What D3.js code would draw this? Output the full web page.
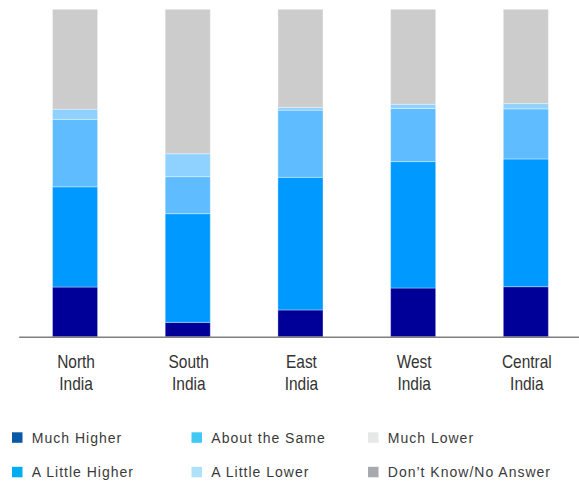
<!DOCTYPE html>
<html>
<head>
<meta charset="utf-8">
<script src="https://cdn.jsdelivr.net/npm/d3@7"></script>
<style>
  html, body { margin: 0; padding: 0; background: #fff; }
  svg { display: block; }
  .cat text { font-family: "Liberation Sans", Arial, sans-serif; font-size: 18px; fill: #333; }
  .legend text { font-family: "Liberation Sans", Arial, sans-serif; font-size: 14px; letter-spacing: 1px; fill: #3a3a3a; }
</style>
</head>
<body>
<svg id="chart" width="579" height="481"></svg>
<script>
// Regions and share of answers (percent) per answer group
const regions = ["North India", "South India", "East India", "West India", "Central India"];
const muchHigher     = [15.2,  4.4,  8.2, 14.9, 15.3];
const littleHigher   = [30.6, 33.2, 40.5, 38.6, 39.0];
const aboutSame      = [20.6, 11.3, 20.5, 16.2, 15.3];
const littleLower    = [ 3.1,  7.0,  0.8,  1.3,  1.6];
const lowerOrUnknown = [30.5, 44.1, 30.0, 29.0, 28.8];

const seriesKeys   = ["muchHigher", "littleHigher", "aboutSame", "littleLower", "lowerOrUnknown"];
const seriesColors = ["#000099", "#0099ff", "#5fbdff", "#8fd1ff", "#cccccc"];

const legendLabels = ["Much Higher", "A Little Higher", "About the Same", "A Little Lower", "Much Lower", "Don\u2019t Know/No Answer"];
const legendColors = ["#0859a8", "#00aeef", "#42c8f4", "#ade2fa", "#e6e7e8", "#a7a9ac"];

const svg = d3.select("#chart");

// Rows for the stack layout
const rows = regions.map((r, i) => ({
  region: r,
  muchHigher: muchHigher[i],
  littleHigher: littleHigher[i],
  aboutSame: aboutSame[i],
  littleLower: littleLower[i],
  lowerOrUnknown: lowerOrUnknown[i]
}));

const stacked = d3.stack().keys(seriesKeys)(rows);

const x = d3.scaleBand()
  .domain(regions)
  .range([18.7, 582.2])
  .paddingInner(0.6)
  .paddingOuter(0.3);

const y = d3.scaleLinear()
  .domain([0, 100])
  .range([336.8, 9.3]);

const color = d3.scaleOrdinal().domain(seriesKeys).range(seriesColors);

// Stacked bars
svg.append("g")
  .selectAll("g")
  .data(stacked)
  .join("g")
    .attr("fill", d => color(d.key))
  .selectAll("rect")
  .data(d => d)
  .join("rect")
    .attr("x", d => x(d.data.region))
    .attr("y", d => y(d[1]))
    .attr("width", x.bandwidth())
    .attr("height", d => y(d[0]) - y(d[1]))
    .attr("stroke", "rgba(255,255,255,0.35)")
    .attr("stroke-width", 1);

// Category axis with two-line, slightly condensed labels
const axis = svg.append("g")
  .attr("class", "cat")
  .attr("transform", `translate(0,${y(0)})`)
  .call(d3.axisBottom(x).tickSize(0).tickPadding(0));

axis.select(".domain")
  .attr("stroke", "#7f7f7f")
  .attr("stroke-width", 1.6);

axis.selectAll(".tick text")
  .attr("font-family", null)
  .attr("font-size", null)
  .attr("fill", null)
  .attr("dy", null)
  .attr("transform", "translate(1,0) scale(0.86,1)")
  .each(function(d) {
    const parts = d.split(" ");
    const t = d3.select(this).text(null).attr("y", 0);
    parts.forEach((p, i) => {
      t.append("tspan")
        .attr("x", 0)
        .attr("y", 31.5 + i * 21.7)
        .text(p);
    });
  });

// Legend: three columns, two rows
const legendCols = [12, 191.5, 368];
const legendRows = [432.3, 466.8];
const legend = svg.append("g").attr("class", "legend");
const items = legendLabels.map((label, i) => ({
  label,
  color: legendColors[i],
  col: Math.floor(i / 2),
  row: i % 2
}));

const li = legend.selectAll("g")
  .data(items)
  .join("g")
    .attr("transform", d => `translate(${legendCols[d.col]},${legendRows[d.row]})`);

li.append("rect")
  .attr("width", 10.5)
  .attr("height", 10.5)
  .attr("fill", d => d.color);

li.append("text")
  .attr("x", 19.8)
  .attr("y", 10.6)
  .text(d => d.label);
</script>
</body>
</html>
